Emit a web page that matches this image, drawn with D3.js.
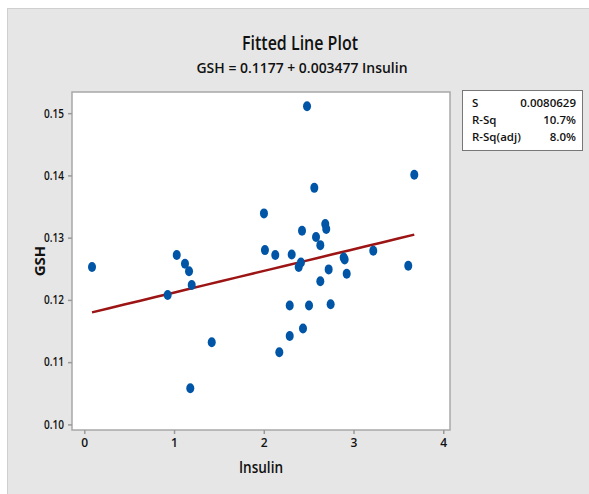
<!DOCTYPE html>
<html>
<head>
<meta charset="utf-8">
<script src="https://cdn.jsdelivr.net/npm/d3@7"></script>
<style>
  body { margin: 0; background: #fff; }
  text { font-family: "Open Sans", sans-serif; fill: #111; }
</style>
</head>
<body>
<div id="canvas"></div>
<script>
// Insulin vs GSH
const insulin = [0.086, 0.929, 1.030, 1.122, 1.167, 1.197, 1.181, 1.420, 2.002, 2.013,
  2.128, 2.173, 2.289, 2.289, 2.311, 2.389, 2.414, 2.426, 2.437, 2.482,
  2.504, 2.563, 2.582, 2.630, 2.630, 2.685, 2.696, 2.723, 2.745, 2.890,
  2.901, 2.924, 3.220, 3.610, 3.677];
const gsh = [0.1253, 0.1208, 0.1272, 0.1258, 0.1246, 0.1224, 0.1058, 0.1132, 0.1339, 0.1280,
  0.1272, 0.1116, 0.1191, 0.1142, 0.1273, 0.1253, 0.1260, 0.1311, 0.1154, 0.1511,
  0.1191, 0.1380, 0.1301, 0.1288, 0.1230, 0.1322, 0.1314, 0.1249, 0.1193, 0.1268,
  0.1265, 0.1242, 0.1279, 0.1255, 0.1401];

// regression
const intercept = 0.1177;
const slope = 0.003477;

const xTicks = [0, 1, 2, 3, 4];
const yTicks = [0.10, 0.11, 0.12, 0.13, 0.14, 0.15];

const statLabels = ["S", "R-Sq", "R-Sq(adj)"];
const statValues = ["0.0080629", "10.7%", "8.0%"];

const W = 589, H = 494;
const plot = {left: 72, right: 450, top: 92, bottom: 430};

const svg = d3.select("#canvas")
    .append("svg")
    .attr("width", W)
    .attr("height", H);

// grey panel behind everything
svg.append("rect")
    .attr("x", 7.5).attr("y", 8.5)
    .attr("width", W).attr("height", H)
    .style("fill", "#e6e6e6")
    .style("stroke", "#cfcfcf");

// titles - the original font is narrower, so squeeze to the measured widths
svg.append("text")
    .attr("x", 300).attr("y", 50)
    .attr("text-anchor", "middle")
    .attr("textLength", 116)
    .attr("lengthAdjust", "spacingAndGlyphs")
    .style("font-size", "19px")
    .style("font-weight", 600)
    .text("Fitted Line Plot");

svg.append("text")
    .attr("x", 302).attr("y", 73)
    .attr("text-anchor", "middle")
    .attr("textLength", 211)
    .attr("lengthAdjust", "spacingAndGlyphs")
    .style("font-size", "15px")
    .style("font-weight", 600)
    .text("GSH = " + intercept + " + " + slope + " Insulin");

const x = d3.scaleLinear()
    .domain([-0.137, 4.075])
    .range([plot.left, plot.right]);

const y = d3.scaleLinear()
    .domain([0.0991, 0.1534])
    .range([plot.bottom, plot.top]);

// white plot area
svg.append("rect")
    .attr("x", plot.left).attr("y", plot.top)
    .attr("width", plot.right - plot.left)
    .attr("height", plot.bottom - plot.top)
    .style("fill", "#fff")
    .style("stroke", "#a8a8a8")
    .style("stroke-width", 1.5);

const xAxis = svg.append("g")
    .attr("transform", "translate(0," + plot.bottom + ")")
    .call(d3.axisBottom(x).tickValues(xTicks).tickFormat(d3.format("d")).tickSize(4).tickSizeOuter(0).tickPadding(4));

const yAxis = svg.append("g")
    .attr("transform", "translate(" + plot.left + ",0)")
    .call(d3.axisLeft(y).tickValues(yTicks).tickFormat(d3.format(".2f")).tickSize(4).tickSizeOuter(0).tickPadding(4));

[xAxis, yAxis].forEach(function(g) {
    g.select(".domain").remove();
    g.selectAll(".tick line").style("stroke", "#9a9a9a").style("stroke-width", 1.5);
    g.selectAll(".tick text")
        .style("font-size", "12px")
        .style("font-weight", 600)
        .style("fill", "#111")
        .style("font-family", "\"Open Sans\", sans-serif");
});
yAxis.selectAll(".tick text")
    .attr("textLength", 20)
    .attr("lengthAdjust", "spacingAndGlyphs");

// axis titles
svg.append("text")
    .attr("x", (plot.left + plot.right) / 2)
    .attr("y", 473)
    .attr("text-anchor", "middle")
    .attr("textLength", 44)
    .attr("lengthAdjust", "spacingAndGlyphs")
    .style("font-size", "16px")
    .style("font-weight", 600)
    .text("Insulin");

svg.append("text")
    .attr("transform", "rotate(-90)")
    .attr("x", -((plot.top + plot.bottom) / 2))
    .attr("y", 45)
    .attr("text-anchor", "middle")
    .style("font-size", "15px")
    .style("font-weight", "bold")
    .text("GSH");

// fitted line over the data range
const xExt = d3.extent(insulin);
const fitPts = d3.range(0, 21).map(i => xExt[0] + (xExt[1] - xExt[0]) * i / 20);
svg.append("path")
    .datum(fitPts)
    .attr("d", d3.line().x(d => x(d)).y(d => y(intercept + slope * d)))
    .style("fill", "none")
    .style("stroke", "#9c1414")
    .style("stroke-width", 2.5);

// points
svg.selectAll(".pt")
    .data(insulin)
    .enter()
    .append("ellipse")
    .attr("class", "pt")
    .attr("cx", d => x(d))
    .attr("cy", (d, i) => y(gsh[i]))
    .attr("rx", 4)
    .attr("ry", 5)
    .style("fill", "#0055a6");

// stats box
const box = {x: 462, y: 90, w: 120, h: 60};
const boxG = svg.append("g");
boxG.append("rect")
    .attr("x", box.x + 0.5).attr("y", box.y + 0.5)
    .attr("width", box.w).attr("height", box.h)
    .style("fill", "#fff")
    .style("stroke", "#777");

statLabels.forEach(function(lab, i) {
    boxG.append("text")
        .attr("x", box.x + 10)
        .attr("y", 107 + i * 17)
        .style("font-size", "11.5px")
        .style("font-weight", 600)
        .text(lab);
    boxG.append("text")
        .attr("x", box.x + box.w - 6)
        .attr("y", 107 + i * 17)
        .attr("text-anchor", "end")
        .style("font-size", "11.5px")
        .style("font-weight", 600)
        .text(statValues[i]);
});
</script>
</body>
</html>
